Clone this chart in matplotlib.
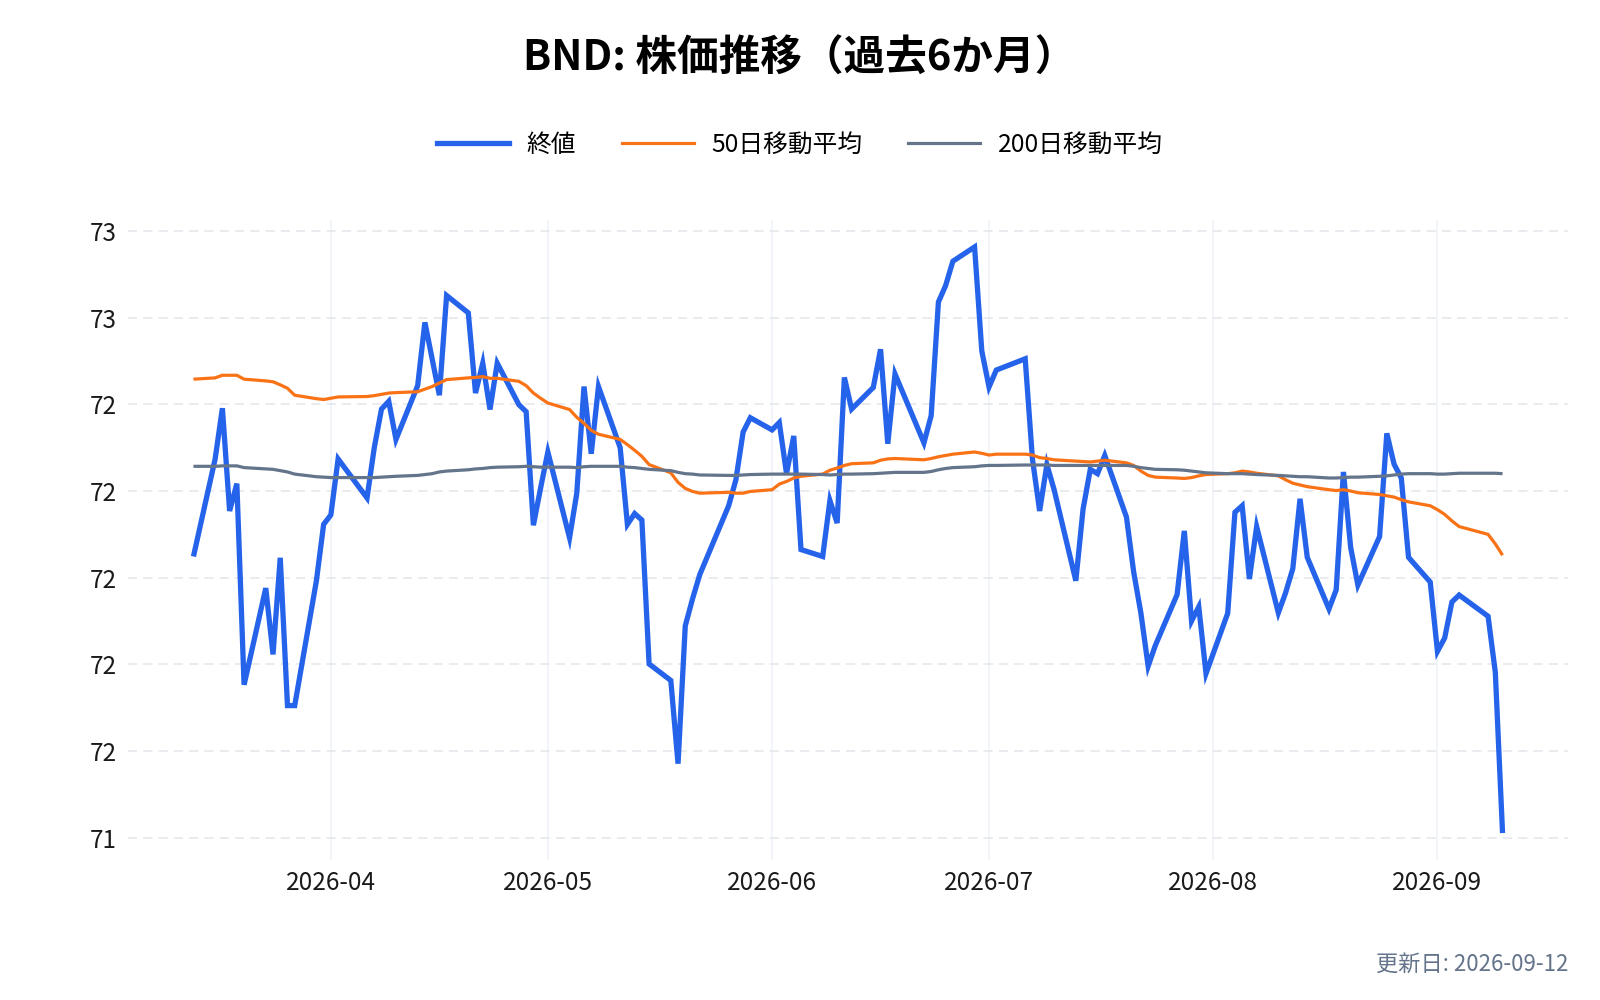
import matplotlib
matplotlib.use("Agg")
import matplotlib.pyplot as plt
import matplotlib.dates as mdates
from matplotlib.ticker import MultipleLocator, FormatStrFormatter
from matplotlib.lines import Line2D
import pandas as pd

plt.rcParams['font.family'] = ['Noto Sans CJK JP', 'DejaVu Sans']

# ---- data ----
title = "BND: 株価推移（過去6か月）"
updated = "更新日: 2026-09-12"
series_names = ["終値", "50日移動平均", "200日移動平均"]

holidays = ["2026-04-03", "2026-05-25", "2026-06-19", "2026-07-03", "2026-09-07"]
dates = pd.bdate_range("2026-03-13", "2026-09-10", freq="C", holidays=holidays)

close = [
    # Mar
    72.049, 72.274, 72.391, 72.154, 72.217, 71.753, 71.976, 71.823, 72.046, 71.705, 71.705, 71.993, 72.123,
    # Apr
    72.145, 72.274, 72.184, 72.300, 72.389, 72.407, 72.319, 72.443, 72.589, 72.505, 72.421, 72.651, 72.611,
    72.426, 72.495, 72.388, 72.495, 72.399, 72.383, 72.121, 72.207,
    # May
    72.290, 72.092, 72.195, 72.441, 72.286, 72.441, 72.300, 72.123, 72.148, 72.133, 71.801, 71.763, 71.571,
    71.889, 71.951, 72.007, 72.166, 72.226, 72.336, 72.369,
    # Jun
    72.341, 72.358, 72.240, 72.327, 72.065, 72.049, 72.178, 72.126, 72.462, 72.389, 72.439, 72.527, 72.309,
    72.470, 72.311, 72.374, 72.636, 72.674, 72.730, 72.763, 72.523,
    # Jul
    72.440, 72.479, 72.505, 72.274, 72.154, 72.261, 72.203, 71.993, 72.158, 72.250, 72.240, 72.282, 72.140,
    72.013, 71.918, 71.796, 71.844, 71.961, 72.108, 71.900, 71.933, 71.779,
    # Aug
    71.918, 72.151, 72.166, 71.997, 72.118, 71.919, 71.965, 72.021, 72.182, 72.047, 71.928, 71.972, 72.244,
    72.070, 71.983, 72.095, 72.333, 72.262, 72.230, 72.047, 71.990,
    # Sep
    71.830, 71.861, 71.944, 71.960, 71.911, 71.782, 71.411,
]

ma50 = [
    72.458, 72.461, 72.467, 72.467, 72.467, 72.458, 72.454, 72.452, 72.445, 72.437, 72.421, 72.413, 72.411,
    72.414, 72.417, 72.418, 72.420, 72.423, 72.426, 72.427, 72.429, 72.435, 72.441, 72.449, 72.457, 72.461,
    72.462, 72.464, 72.460, 72.460, 72.453, 72.443, 72.426, 72.414,
    72.403, 72.388, 72.370, 72.356, 72.340, 72.331, 72.319, 72.307, 72.294, 72.280, 72.261, 72.242, 72.220,
    72.206, 72.199, 72.195, 72.197, 72.195, 72.195, 72.199,
    72.203, 72.216, 72.222, 72.230, 72.234, 72.239, 72.248, 72.253, 72.259, 72.263, 72.265, 72.271, 72.274,
    72.275, 72.272, 72.275, 72.279, 72.282, 72.285, 72.290, 72.287,
    72.283, 72.285, 72.285, 72.283, 72.277, 72.275, 72.272, 72.269, 72.268, 72.267, 72.269, 72.271, 72.265,
    72.259, 72.246, 72.236, 72.232, 72.230, 72.229, 72.231, 72.235, 72.238,
    72.240, 72.242, 72.246, 72.244, 72.241, 72.235, 72.226, 72.218, 72.214, 72.210, 72.203, 72.201, 72.203,
    72.200, 72.196, 72.192, 72.189, 72.186, 72.180, 72.175, 72.166,
    72.157, 72.146, 72.131, 72.118, 72.100, 72.078, 72.052,
]

ma200 = [
    72.257, 72.257, 72.258, 72.258, 72.258, 72.254, 72.251, 72.250, 72.247, 72.244, 72.239, 72.233, 72.232,
    72.231, 72.231, 72.231, 72.231, 72.232, 72.233, 72.234, 72.236, 72.238, 72.240, 72.244, 72.246, 72.249,
    72.251, 72.252, 72.254, 72.255, 72.256, 72.257, 72.256, 72.255,
    72.255, 72.255, 72.254, 72.256, 72.257, 72.257, 72.257, 72.255, 72.254, 72.252, 72.250, 72.247, 72.243,
    72.240, 72.239, 72.237, 72.236, 72.236, 72.237, 72.238,
    72.239, 72.239, 72.239, 72.239, 72.239, 72.238, 72.237, 72.238, 72.239, 72.239, 72.240, 72.241, 72.242,
    72.243, 72.243, 72.245, 72.249, 72.252, 72.254, 72.256, 72.258,
    72.259, 72.259, 72.260, 72.260, 72.260, 72.260, 72.259, 72.259, 72.259, 72.259, 72.259, 72.259, 72.259,
    72.257, 72.254, 72.252, 72.250, 72.249, 72.248, 72.246, 72.244, 72.242,
    72.240, 72.240, 72.240, 72.239, 72.238, 72.236, 72.235, 72.234, 72.233, 72.233, 72.230, 72.230, 72.231,
    72.232, 72.232, 72.234, 72.235, 72.237, 72.239, 72.240, 72.240,
    72.239, 72.239, 72.240, 72.241, 72.241, 72.241, 72.240,
]

colors = ["#2563eb", "#f97316", "#64748b"]
widths = [3.8, 2.3, 2.3]

# ---- figure ----
fig = plt.figure(figsize=(16, 10), dpi=100)
ax = fig.add_axes([0.08, 0.14, 0.90, 0.64])

for vals, c, lw, name in zip([close, ma50, ma200], colors, widths, series_names):
    ax.plot(dates, vals, color=c, lw=lw, label=name, solid_joinstyle='miter', solid_capstyle='butt')

# limits
span = dates[-1] - dates[0]
xpad = span * 0.05
ax.set_xlim(dates[0] - xpad, dates[-1] + xpad)
allv = close + ma50 + ma200
lo, hi = min(allv), max(allv)
ypad = (hi - lo) * 0.046
ax.set_ylim(lo - ypad, hi + ypad)

ax.yaxis.set_major_locator(MultipleLocator(0.2))
ax.yaxis.set_major_formatter(FormatStrFormatter('%.0f'))
ax.xaxis.set_major_locator(mdates.MonthLocator())
ax.xaxis.set_major_formatter(mdates.DateFormatter('%Y-%m'))

for s in ax.spines.values():
    s.set_visible(False)
ax.tick_params(axis='both', length=0, labelsize=17.5, colors='#1a1a1a')
ax.tick_params(axis='y', pad=8)
ax.tick_params(axis='x', pad=7)

ax.set_axisbelow(True)
ax.grid(axis='y', color='#e3e5ea', lw=1.1, linestyle=(0, (6, 4)))
ax.grid(axis='x', color='#eef1f6', lw=1.1, linestyle='-')

# title, legend, footer
fig.text(0.5, 0.941, title, ha='center', va='center', fontsize=30, fontweight='bold', color='#000000')

handles = [Line2D([0], [0], color=c, lw=lw) for c, lw in zip(colors, widths)]
fig.legend(handles, series_names, loc='center', bbox_to_anchor=(0.5, 0.855), ncol=3, frameon=False,
           fontsize=17.8, handlelength=2.9, handletextpad=0.72, columnspacing=1.85)

fig.text(0.98, 0.036, updated, ha='right', va='center', fontsize=16, color='#64748b')

fig.savefig("out.png", dpi=100, facecolor='white')
